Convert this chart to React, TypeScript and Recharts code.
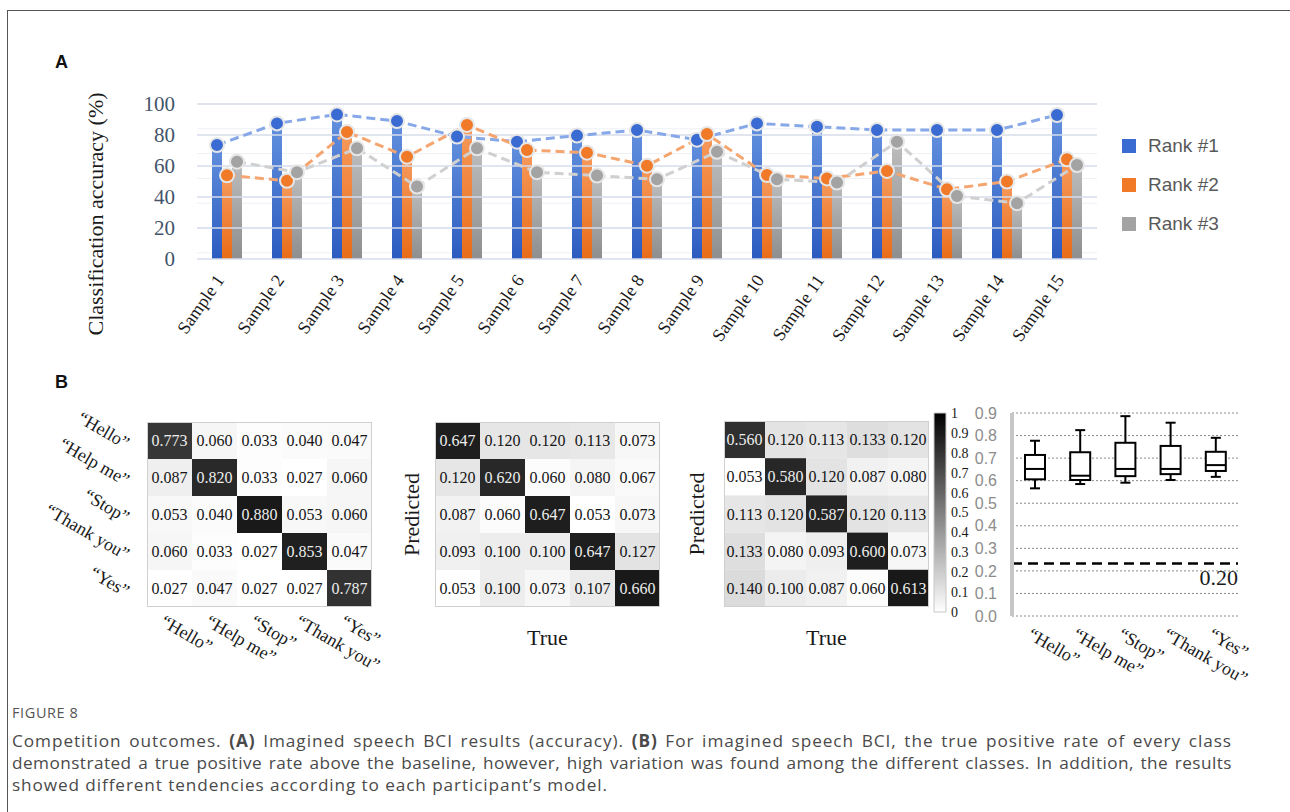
import React from 'react';
import { ComposedChart, BarChart, Bar, Line, XAxis, YAxis, CartesianGrid, ReferenceLine, Legend } from 'recharts';

const SERIF = '"Liberation Serif", "Times New Roman", serif';
const SANS = '"Liberation Sans", Arial, sans-serif';
const CAPTION_FONT = '"Open Sans", "Noto Sans", sans-serif';

// ---------- Panel A data ----------
const samples = ['Sample 1', 'Sample 2', 'Sample 3', 'Sample 4', 'Sample 5', 'Sample 6', 'Sample 7', 'Sample 8', 'Sample 9', 'Sample 10', 'Sample 11', 'Sample 12', 'Sample 13', 'Sample 14', 'Sample 15'];
const rank1 = [73.5, 87.5, 93.3, 89.0, 79.0, 75.7, 79.6, 83.2, 77.0, 87.5, 85.4, 83.2, 83.2, 83.2, 92.9];
const rank2 = [54.0, 50.5, 82.0, 66.0, 86.5, 70.3, 68.6, 60.2, 80.6, 54.2, 52.0, 56.8, 45.0, 50.0, 64.3];
const rank3 = [62.8, 56.0, 71.4, 46.7, 71.4, 56.0, 53.8, 51.4, 69.2, 51.4, 49.3, 75.7, 40.6, 36.0, 60.6];
const rankNames = ['Rank #1', 'Rank #2', 'Rank #3'];
const accuracyTicks = [0, 20, 40, 60, 80, 100];
const accuracyMinorTicks = [0, 4, 8, 12, 16, 20, 24, 28, 32, 36, 40, 44, 48, 52, 56, 60, 64, 68, 72, 76, 80, 84, 88, 92, 96, 100];

// ---------- Panel B data ----------
const classes = ['\u201CHello\u201D', '\u201CHelp me\u201D', '\u201CStop\u201D', '\u201CThank you\u201D', '\u201CYes\u201D'];
const confusion1 = [
  [0.773, 0.060, 0.033, 0.040, 0.047],
  [0.087, 0.820, 0.033, 0.027, 0.060],
  [0.053, 0.040, 0.880, 0.053, 0.060],
  [0.060, 0.033, 0.027, 0.853, 0.047],
  [0.027, 0.047, 0.027, 0.027, 0.787],
];
const confusion2 = [
  [0.647, 0.120, 0.120, 0.113, 0.073],
  [0.120, 0.620, 0.060, 0.080, 0.067],
  [0.087, 0.060, 0.647, 0.053, 0.073],
  [0.093, 0.100, 0.100, 0.647, 0.127],
  [0.053, 0.100, 0.073, 0.107, 0.660],
];
const confusion3 = [
  [0.560, 0.120, 0.113, 0.133, 0.120],
  [0.053, 0.580, 0.120, 0.087, 0.080],
  [0.113, 0.120, 0.587, 0.120, 0.113],
  [0.133, 0.080, 0.093, 0.600, 0.073],
  [0.140, 0.100, 0.087, 0.060, 0.613],
];
const colorbarTicks = [0, 0.1, 0.2, 0.3, 0.4, 0.5, 0.6, 0.7, 0.8, 0.9, 1];
const boxMin = [0.566, 0.585, 0.591, 0.603, 0.617];
const boxQ1 = [0.606, 0.603, 0.620, 0.629, 0.643];
const boxMedian = [0.652, 0.622, 0.652, 0.652, 0.669];
const boxQ3 = [0.714, 0.726, 0.768, 0.754, 0.728];
const boxMax = [0.777, 0.824, 0.886, 0.857, 0.790];
const boxTicks = [0, 0.1, 0.2, 0.3, 0.4, 0.5, 0.6, 0.7, 0.8, 0.9];
const baselineValue = 0.233;
const baselineLabel = '0.20';

// ---------- styles ----------
const rankStyles = [
  { grad: ['#6390DE', '#2B5BC0'], dot: '#3A6BD3', line: '#86A7E8', shift: 1 / 3 },
  { grad: ['#F79A5C', '#E96C18'], dot: '#F07A28', line: '#F4A570', shift: 1 / 2 },
  { grad: ['#BDBDBD', '#8E8E8E'], dot: '#A3A3A3', line: '#D0D0D0', shift: 2 / 3 },
];

const SampleTick = (p: any) => {
  const ax = p.x - 2;
  const ay = p.y + 21;
  return (
    <text x={ax} y={ay} transform={`rotate(-55 ${ax} ${ay})`} textAnchor="end" fontFamily={SERIF} fontSize={18} fill="#1a1a1a">
      {p.payload.value}
    </text>
  );
};

function PanelA() {
  const data = samples.map((name, idx) => ({ name, idx, r0: rank1[idx], r1: rank2[idx], r2: rank3[idx] }));
  return (
    <div style={{ position: 'absolute', left: 0, top: 0 }}>
      <ComposedChart width={1260} height={370} data={data} margin={{ top: 104, right: 163, bottom: 11, left: 117 }} barGap={0}>
        <defs>
          {rankStyles.map((s, i) => (
            <linearGradient key={i} id={`rkg${i}`} x1="0" y1="0" x2="0" y2="1">
              <stop offset="0" stopColor={s.grad[0]} />
              <stop offset="1" stopColor={s.grad[1]} />
            </linearGradient>
          ))}
        </defs>
        <CartesianGrid vertical={false} horizontalValues={accuracyMinorTicks} stroke="#EDF0F6" strokeWidth={1} />
        {accuracyTicks.map((v) => (
          <ReferenceLine key={`maj${v}`} y={v} stroke="#D6DDEB" strokeWidth={1.6} />
        ))}
        <XAxis dataKey="name" height={100} interval={0} axisLine={false} tickLine={false} tickSize={0} tickMargin={0} tick={SampleTick} />
        {rankStyles.map((s, i) => (
          <XAxis key={`lx${i}`} xAxisId={`lx${i}`} type="number" dataKey="idx" domain={[-s.shift, 15 - s.shift]} allowDataOverflow hide />
        ))}
        <YAxis
          domain={[0, 100]}
          ticks={accuracyTicks}
          width={80}
          axisLine={false}
          tickLine={false}
          tickSize={0}
          tickMargin={22}
          tick={{ fill: '#44546A', fontSize: 21, fontFamily: SERIF }}
          label={{
            content: () => (
              <text x={103} y={214} transform="rotate(-90 103 214)" textAnchor="middle" fontFamily={SERIF} fontSize={22} fill="#1a1a1a">
                Classification accuracy (%)
              </text>
            ),
          }}
        />
        {rankStyles.map((s, i) => (
          <Bar key={`b${i}`} dataKey={`r${i}`} name={rankNames[i]} fill={`url(#rkg${i})`} barSize={10} isAnimationActive={false} />
        ))}
        {rankStyles.map((s, i) => (
          <Line
            key={`l${i}`}
            xAxisId={`lx${i}`}
            dataKey={`r${i}`}
            type="linear"
            stroke={s.line}
            strokeWidth={3}
            strokeDasharray="9 5"
            isAnimationActive={false}
            legendType="none"
            dot={(p: any) => <circle key={`d${i}-${p.index}`} cx={p.cx} cy={p.cy} r={7} fill={s.dot} stroke="#E6E6E6" strokeWidth={2} />}
          />
        ))}
        <Legend
          layout="vertical"
          align="center"
          verticalAlign="middle"
          wrapperStyle={{ left: 1122, top: 126, width: 140, height: 117 }}
          content={() => (
            <div style={{ fontFamily: SANS, fontSize: 19, color: '#595959' }}>
              {rankNames.map((n, i) => (
                <div key={n} style={{ display: 'flex', alignItems: 'center', height: 39 }}>
                  <span style={{ display: 'inline-block', width: 14, height: 14, background: rankStyles[i].dot, marginRight: 12 }} />
                  {n}
                </div>
              ))}
            </div>
          )}
        />
      </ComposedChart>
    </div>
  );
}

function Heatmap(props: any) {
  const { px, py, w, h, matrix, showRows, showCols, xTitle, yTitle, yTitleDx } = props;
  const padL = 140, padT = 40, yW = 40, xH = 70;
  const W = w + padL + 20;
  const H = padT + h + xH + 10;
  const flat = matrix.flat();
  const lo = Math.min(...flat);
  const hi = Math.max(...flat);
  const table = classes.map((c, j) => {
    const rec: any = { col: c };
    matrix.forEach((r: number[], i: number) => {
      rec[`v${i}`] = r[j];
      rec[`u${i}`] = 1;
    });
    return rec;
  });
  const makeShape = (row: number) => (p: any) => {
    const v = p.payload[`v${row}`];
    const t = (v - lo) / (hi - lo);
    const g = Math.round(255 - 230 * t);
    const y0 = Math.min(p.y, p.y + p.height);
    const hh = Math.abs(p.height);
    return (
      <g>
        <rect x={p.x} y={y0} width={p.width} height={hh} fill={`rgb(${g},${g},${g})`} />
        <text x={p.x + p.width / 2} y={y0 + hh / 2} dy="0.35em" textAnchor="middle" fontFamily={SERIF} fontSize={16} fill={t > 0.5 ? '#EDEDED' : '#151515'}>
          {v.toFixed(3)}
        </text>
      </g>
    );
  };
  const RowTick = (p: any) => {
    const ax = p.x - 12;
    const ay = p.y + 9;
    return (
      <text x={ax} y={ay} transform={`rotate(30 ${ax} ${ay})`} textAnchor="end" fontFamily={SERIF} fontSize={18} fill="#1a1a1a">
        {classes[Math.floor(p.payload.value)]}
      </text>
    );
  };
  const ColTick = (p: any) => {
    const ax = p.x - 10;
    const ay = p.y + 18;
    return (
      <text x={ax} y={ay} transform={`rotate(30 ${ax} ${ay})`} textAnchor="start" fontFamily={SERIF} fontSize={18} fill="#1a1a1a">
        {p.payload.value}
      </text>
    );
  };
  return (
    <div style={{ position: 'absolute', left: px - padL, top: py - padT }}>
      <BarChart width={W} height={H} data={table} margin={{ top: padT, left: padL - yW, right: 20, bottom: 10 }} barCategoryGap={0} barGap={0}>
        <XAxis
          dataKey="col"
          height={xH}
          interval={0}
          axisLine={false}
          tickLine={false}
          tickSize={0}
          tickMargin={0}
          tick={showCols ? ColTick : false}
          label={
            xTitle
              ? {
                  content: () => (
                    <text x={padL + w / 2} y={padT + h + 38} textAnchor="middle" fontFamily={SERIF} fontSize={22} fill="#1a1a1a">
                      {xTitle}
                    </text>
                  ),
                }
              : undefined
          }
        />
        <YAxis
          type="number"
          domain={[0, 5]}
          reversed
          ticks={[0.5, 1.5, 2.5, 3.5, 4.5]}
          width={yW}
          axisLine={false}
          tickLine={false}
          tickSize={0}
          tickMargin={10}
          tick={showRows ? RowTick : false}
          label={
            yTitle
              ? {
                  content: () => {
                    const tx = padL - yTitleDx;
                    const ty = padT + h / 2;
                    return (
                      <text x={tx} y={ty} transform={`rotate(-90 ${tx} ${ty})`} textAnchor="middle" fontFamily={SERIF} fontSize={22} fill="#1a1a1a">
                        {yTitle}
                      </text>
                    );
                  },
                }
              : undefined
          }
        />
        {matrix.map((_: any, i: number) => (
          <Bar key={i} dataKey={`u${i}`} stackId="s" isAnimationActive={false} shape={makeShape(i)} />
        ))}
      </BarChart>
      <div style={{ position: 'absolute', left: padL, top: padT, width: w, height: h, boxSizing: 'border-box', border: '1px solid #d0d0d0', pointerEvents: 'none' }} />
    </div>
  );
}

function ColorBar() {
  return (
    <div style={{ position: 'absolute', left: 925, top: 400 }}>
      <BarChart width={60} height={230} data={[{ n: 'scale', v: 1 }]} margin={{ top: 13, right: 0, bottom: 18, left: 9 }} barCategoryGap={0}>
        <defs>
          <linearGradient id="cbgrad" x1="0" y1="0" x2="0" y2="1">
            <stop offset="0" stopColor="#000" />
            <stop offset="1" stopColor="#fff" />
          </linearGradient>
        </defs>
        <XAxis dataKey="n" hide />
        <YAxis
          orientation="right"
          domain={[0, 1]}
          ticks={colorbarTicks}
          width={39}
          axisLine={false}
          tickLine={false}
          tickSize={0}
          tickMargin={5}
          tickFormatter={(v: number) => (v === 0 ? '0' : v === 1 ? '1' : v.toFixed(1))}
          tick={{ fill: '#1a1a1a', fontSize: 14, fontFamily: SERIF, textAnchor: 'start' }}
          interval={0}
        />
        <Bar dataKey="v" fill="url(#cbgrad)" stroke="#c8c8c8" strokeWidth={1} isAnimationActive={false} />
      </BarChart>
    </div>
  );
}

const BoxShape = (p: any) => {
  const d = p.payload;
  const top = Math.min(p.y, p.y + p.height);
  const hh = Math.abs(p.height);
  const k = hh / (d.max - d.min);
  const yOf = (v: number) => top + (d.max - v) * k;
  const cx = p.x + p.width / 2;
  const bw = p.width;
  const cap = 5;
  return (
    <g stroke="#000" strokeWidth={2} fill="none">
      <line x1={cx} x2={cx} y1={yOf(d.max)} y2={yOf(d.q3)} />
      <line x1={cx} x2={cx} y1={yOf(d.q1)} y2={yOf(d.min)} />
      <line x1={cx - cap} x2={cx + cap} y1={yOf(d.max)} y2={yOf(d.max)} />
      <line x1={cx - cap} x2={cx + cap} y1={yOf(d.min)} y2={yOf(d.min)} />
      <rect x={cx - bw / 2} y={yOf(d.q3)} width={bw} height={yOf(d.q1) - yOf(d.q3)} fill="#fff" />
      <line x1={cx - bw / 2} x2={cx + bw / 2} y1={yOf(d.med)} y2={yOf(d.med)} />
    </g>
  );
};

const BoxTick = (p: any) => {
  const ax = p.x - 8;
  const ay = p.y + 22;
  return (
    <text x={ax} y={ay} transform={`rotate(30 ${ax} ${ay})`} textAnchor="start" fontFamily={SERIF} fontSize={18} fill="#1a1a1a">
      {p.payload.value}
    </text>
  );
};

function BoxPanel() {
  const data = classes.map((name, i) => ({
    name,
    min: boxMin[i],
    q1: boxQ1[i],
    med: boxMedian[i],
    q3: boxQ3[i],
    max: boxMax[i],
    range: [boxMin[i], boxMax[i]],
  }));
  return (
    <div style={{ position: 'absolute', left: 960, top: 395 }}>
      <ComposedChart width={300} height={300} data={data} margin={{ top: 18, right: 22, bottom: 9, left: 12 }}>
        <CartesianGrid vertical={false} stroke="#8a8a8a" strokeDasharray="2 2" />
        <XAxis dataKey="name" height={70} interval={0} axisLine={false} tickLine={false} tickSize={0} tickMargin={0} tick={BoxTick} />
        <YAxis
          domain={[0, 0.9]}
          ticks={boxTicks}
          interval={0}
          width={40}
          tickFormatter={(v: number) => v.toFixed(1)}
          axisLine={{ stroke: '#C6C6C6', strokeWidth: 4 }}
          tickLine={false}
          tickSize={0}
          tickMargin={15}
          tick={{ fill: '#8C8C8C', fontSize: 16, fontFamily: SANS }}
        />
        <ReferenceLine
          y={baselineValue}
          stroke="#000"
          strokeWidth={2.5}
          strokeDasharray="10 6"
          label={{
            content: () => (
              <text x={278} y={190} textAnchor="end" fontFamily={SERIF} fontSize={22} fill="#1a1a1a">
                {baselineLabel}
              </text>
            ),
          }}
        />
        <Bar dataKey="range" barSize={20} shape={BoxShape} isAnimationActive={false} />
      </ComposedChart>
    </div>
  );
}

const justifiedLine: React.CSSProperties = { width: 1220, textAlign: 'justify', textAlignLast: 'justify' as any, whiteSpace: 'normal' };

export default function App() {
  return (
    <div style={{ position: 'absolute', left: 0, top: 0, width: 1290, height: 812, overflow: 'hidden', background: '#fff' }}>
      <div style={{ position: 'absolute', left: 7, top: 10, width: 1400, height: 900, border: '1px solid #555', boxSizing: 'border-box' }} />
      <div style={{ position: 'absolute', left: 55, top: 52, fontFamily: SANS, fontWeight: 'bold', fontSize: 18, color: '#111' }}>A</div>
      <div style={{ position: 'absolute', left: 55, top: 372, fontFamily: SANS, fontWeight: 'bold', fontSize: 18, color: '#111' }}>B</div>
      <PanelA />
      <Heatmap px={147} py={422} w={225} h={185} matrix={confusion1} showRows showCols />
      <Heatmap px={435} py={422} w={225} h={185} matrix={confusion2} xTitle="True" yTitle="Predicted" yTitleDx={16} />
      <Heatmap px={724} py={421} w={205} h={186} matrix={confusion3} xTitle="True" yTitle="Predicted" yTitleDx={20} />
      <ColorBar />
      <BoxPanel />
      <div style={{ position: 'absolute', left: 12, top: 703, fontFamily: CAPTION_FONT, color: '#555' }}>
        <div style={{ fontSize: 14.5, lineHeight: '20px', letterSpacing: 0.6, whiteSpace: 'nowrap' }}>FIGURE 8</div>
        <div style={{ fontSize: 17.2, lineHeight: '22px', marginTop: 7, color: '#4a4a4a', letterSpacing: 0.45 }}>
          <div style={{ ...justifiedLine, letterSpacing: 0.95 }}>
            Competition outcomes. <b>(A)</b> Imagined speech BCI results (accuracy). <b>(B)</b> For imagined speech BCI, the true positive rate of every class
          </div>
          <div style={justifiedLine}>
            demonstrated a true positive rate above the baseline, however, high variation was found among the different classes. In addition, the results
          </div>
          <div style={{ whiteSpace: 'nowrap', letterSpacing: 0.9 }}>showed different tendencies according to each participant’s model.</div>
        </div>
      </div>
    </div>
  );
}
